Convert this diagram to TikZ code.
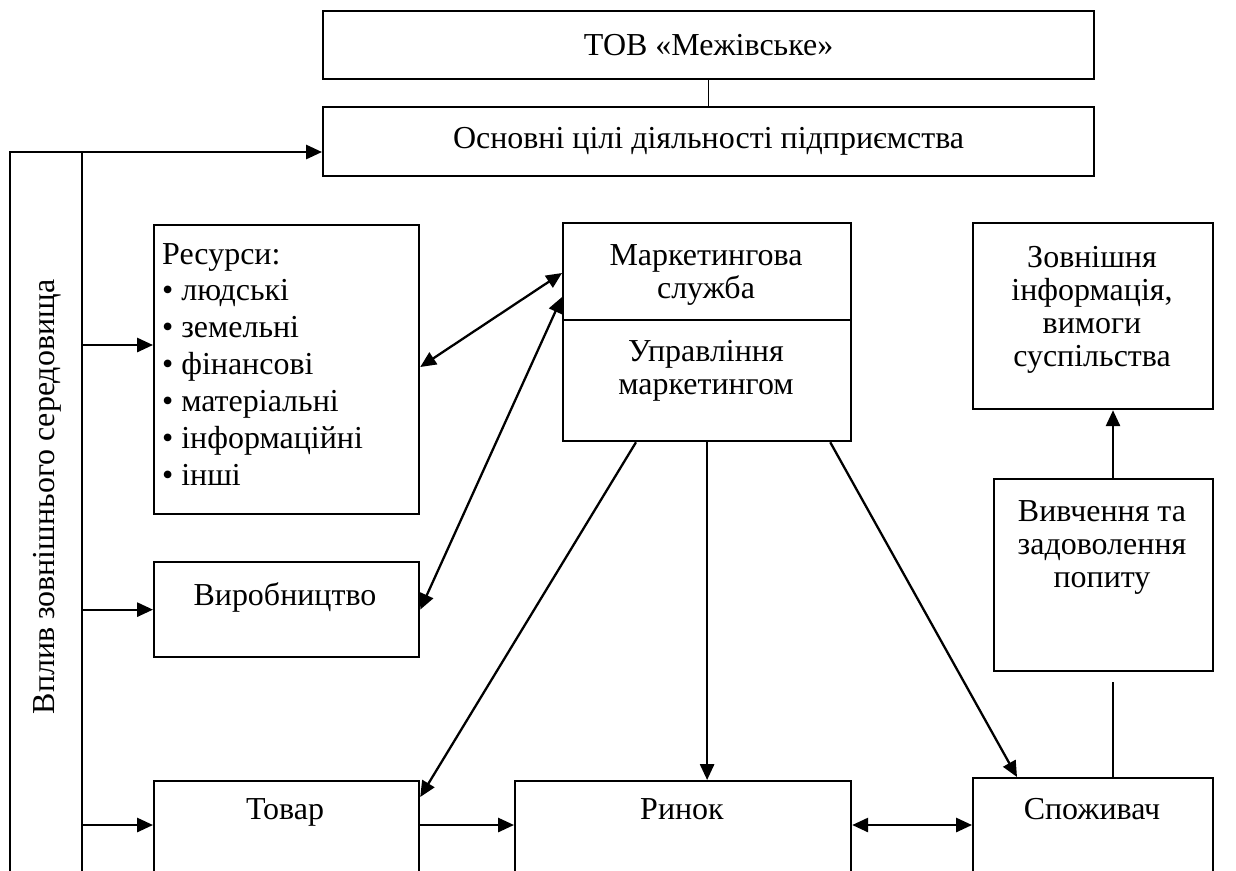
\documentclass[tikz,border=0pt]{standalone}
\usepackage{fontspec}
\setmainfont{Liberation Serif}
\usetikzlibrary{arrows.meta,positioning}

\begin{document}
\begin{tikzpicture}[x=0.02cm,y=-0.02cm,line width=1.3pt,
    >={Triangle[length=9pt,width=8pt]},
    box/.style={draw,inner sep=0pt,anchor=north west},
    txt/.style={font=\fontsize{18.2}{18.9}\selectfont,align=center,inner sep=0pt}]
  \useasboundingbox (0,0) rectangle (1236,870);
  \clip (0,0) rectangle (1236,870);

  % boxes
  \node[box,minimum width=15.42cm,minimum height=1.36cm] (tov)   at (322,10)  {};
  \node[box,minimum width=15.42cm,minimum height=1.38cm] (goals) at (322,106) {};
  \node[box,minimum width=5.3cm,minimum height=5.78cm]   (res)   at (153,224) {};
  \node[box,minimum width=5.3cm,minimum height=1.9cm]    (prod)  at (153,561) {};
  \node[box,minimum width=5.3cm,minimum height=2.6cm]    (goods) at (153,780) {};
  \node[box,minimum width=5.76cm,minimum height=4.36cm]  (mk)    at (562,222) {};
  \node[box,minimum width=4.8cm,minimum height=3.72cm]   (ext)   at (972,222) {};
  \node[box,minimum width=4.38cm,minimum height=3.84cm]  (study) at (993,478) {};
  \node[box,minimum width=6.72cm,minimum height=2.6cm]   (market) at (514,780) {};
  \node[box,minimum width=4.8cm,minimum height=2.66cm]   (cons)  at (972,777) {};
  \draw (mk.west |- 0,320) -- (mk.east |- 0,320);

  % texts
  \node[txt] (tovT)   at (tov)   {ТОВ «Межівське»};
  \node[txt] (goalsT) at (goals) {Основні цілі діяльності підприємства};
  \node[txt,align=left,anchor=north west,font=\fontsize{18.2}{21}\selectfont] (resT) at (161,242)
    {Ресурси:\\• людські\\• земельні\\• фінансові\\• матеріальні\\• інформаційні\\• інші};
  \node[txt,anchor=north] (prodT)   at (285,581) {Виробництво};
  \node[txt,anchor=north] (goodsT)  at (285,797) {Товар};
  \node[txt,anchor=north] (marketT) at (682,797) {Ринок};
  \node[txt,anchor=north] (consT)   at (1092,797) {Споживач};
  \node[txt,anchor=north] (mkT)  at (706,243) {Маркетингова\\служба};
  \node[txt,anchor=north] (mgT)  at (706,339) {Управління\\маркетингом};
  \node[txt,anchor=north] (extT) at (1092,245) {Зовнішня\\інформація,\\вимоги\\суспільства};
  \node[txt,anchor=north] (studyT) at (1102,499) {Вивчення та\\задоволення\\попиту};
  \node[txt,rotate=90] (env) at (47,497) {Вплив зовнішнього середовища};

  % frame of external influence
  \coordinate (lt) at (10,152);
  \coordinate (lm) at (82,152);
  \coordinate (row) at (0,825);
  \coordinate (sx) at (1113,0);
  \draw (10,900) -- (lt) -- (lm) -- (82,900);
  \draw[->] (lm) -- (goals.west |- lm);
  \draw[->] (lm |- 0,345) -- (res.west |- 0,345);
  \draw[->] (lm |- prod.west) -- (prod.west);
  \draw[->] (lm |- row) -- (goods.west |- row);

  % links
  \draw[line width=0.9pt] (tov.south) -- (goals.north);
  \draw[<->] (res.east |- 0,367) -- (mk.west |- 0,273);
  \draw[<->] (prod.east) -- (mk.west |- 0,297);
  \draw[->] ([xshift=1.48cm]mk.south west) -- ([yshift=-0.34cm]goods.north east);
  \draw[->] (mk.south) -- (mk.south |- market.north);
  \draw[->] ([xshift=-0.44cm]mk.south east) -- ([xshift=0.9cm]cons.north west);
  \draw[->] (goods.east |- row) -- (market.west |- row);
  \draw[<->] (market.east |- row) -- (cons.west |- row);
  \draw[->] (study.north -| sx) -- (ext.south -| sx);
  \draw[line width=0.9pt,shorten <=0.2cm] (study.south -| sx) -- (cons.north -| sx);
\end{tikzpicture}
\end{document}
